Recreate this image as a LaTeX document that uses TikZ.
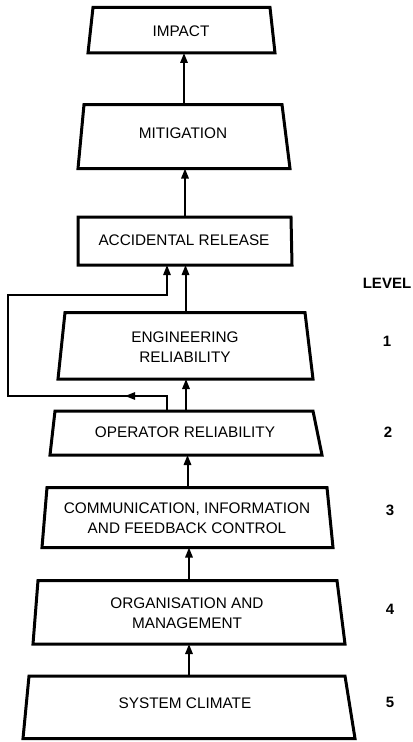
\documentclass[tikz,border=0pt]{standalone}
\usepackage{fontspec}
\setmainfont{Liberation Sans}
\usetikzlibrary{arrows.meta,calc,fit}
\newcommand\tzbox[3]{\draw[boxline] ($(#1.north west)+(#2,0)$) -- ($(#1.north east)-(#3,0)$) -- (#1.south east) -- (#1.south west) -- cycle;}
\begin{document}
\begin{tikzpicture}[x=0.75pt,y=-0.75pt,
  boxline/.style={line width=2.25pt, line join=miter},
  boxn/.style={inner sep=0pt, outer sep=0pt},
  lbl/.style={inner sep=0pt, outer sep=0pt, align=center, font=\fontsize{11.5pt}{15pt}\selectfont},
  arr/.style={line width=1.5pt, -{Triangle[length=7.5pt,width=5.5pt]}},
  fbarr/.style={line width=1.3pt, -{Triangle[length=7.5pt,width=5.5pt]}},
  lev/.style={font=\fontsize{11.25pt}{15pt}\selectfont\bfseries}]
\useasboundingbox (0,0) rectangle (412,742);

% boxes (named nodes)
\node[boxn, fit={(88,7.5) (275,53)}] (imp) {};
\node[boxn, fit={(78,104.5) (290,168.5)}] (mit) {};
\node[boxn, fit={(78,217) (292,265)}] (ar) {};
\node[boxn, fit={(58,312.5) (313,379)}] (er) {};
\node[boxn, fit={(50,411) (322,455)}] (opr) {};
\node[boxn, fit={(42,487.5) (333,547.5)}] (com) {};
\node[boxn, fit={(33,580.5) (345,644)}] (org) {};
\node[boxn, fit={(23,676) (355,738.5)}] (sc) {};

% trapezoid outlines
\tzbox{imp}{5}{5}
\tzbox{mit}{6}{8}
\tzbox{ar}{0}{1}
\tzbox{er}{7}{8}
\tzbox{opr}{5}{9}
\tzbox{com}{5}{6}
\tzbox{org}{5}{8}
\tzbox{sc}{6}{10}

% box texts
\node[lbl] (impT) at (181,31) {IMPACT};
\node[lbl] (mitT) at (183,133) {MITIGATION};
\node[lbl] (arT) at (184,240) {ACCIDENTAL RELEASE};
\node[lbl] (erT) at (185,347) {ENGINEERING\\RELIABILITY};
\node[lbl] (oprT) at (185,432) {OPERATOR RELIABILITY};
\node[lbl] (comT) at (187,518) {COMMUNICATION, INFORMATION\\AND FEEDBACK CONTROL};
\node[lbl] (orgT) at (187,613.5) {ORGANISATION AND\\MANAGEMENT};
\node[lbl] (scT) at (185,703) {SYSTEM CLIMATE};

% upward connectors
\draw[arr] (mit.north) -- (mit.north |- imp.south);
\draw[arr] (ar.north) -- (ar.north |- mit.south);
\draw[arr] (er.north) -- (er.north |- ar.south);
\draw[arr] (opr.north) -- (opr.north |- er.south);
\draw[arr] (com.north) -- (com.north |- opr.south);
\draw[arr] (org.north) -- (org.north |- com.south);
\draw[arr] (sc.north) -- (sc.north |- org.south);

% feedback loop
\coordinate (fbx) at (167,0);
\coordinate (fbLo) at (8,396);
\coordinate (fbHi) at (8,295);
\coordinate (fbM1) at (145,396);
\coordinate (fbM2) at (125,396);
\draw[fbarr] (opr.north -| fbx) |- (fbLo) -- (fbHi) -| (fbx |- ar.south);
\draw[fbarr] (fbM1) -- (fbM2);

% levels
\node[lev] (lvl) at (387,283) {LEVEL};
\node[lev] (l1) at (387,341) {1};
\node[lev] (l2) at (388,432) {2};
\node[lev] (l3) at (390,510) {3};
\node[lev] (l4) at (390,609) {4};
\node[lev] (l5) at (390,702) {5};
\end{tikzpicture}
\end{document}
